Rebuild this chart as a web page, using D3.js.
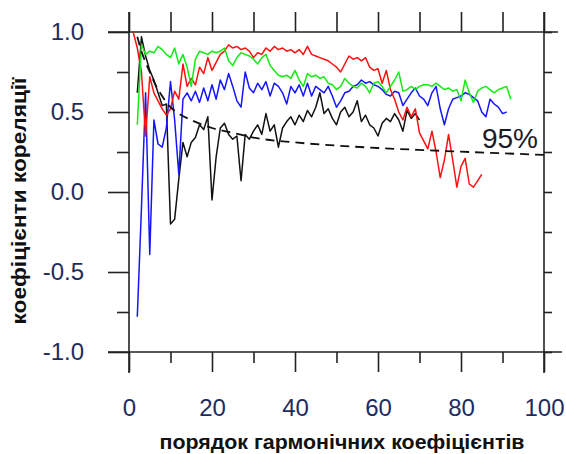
<!DOCTYPE html>
<html><head><meta charset="utf-8">
<script src="https://cdn.jsdelivr.net/npm/d3@7"></script>
<style>html,body{margin:0;padding:0;background:#fff;}svg{display:block;}</style>
</head><body>
<svg id="c" width="566" height="454"></svg>
<script>
// ---- data ----
const xTicks = [0, 20, 40, 60, 80, 100];
const xMinorTicks = [10, 30, 50, 70, 90];
const yTicks = [-1.0, -0.5, 0.0, 0.5, 1.0];
const yMinorTicks = [-0.75, -0.25, 0.25, 0.75];
const xTitle = "порядок гармонічних коефіцієнтів";
const yTitle = "коефіцієнти кореляції";
const sigLabel = "95%";

const redStart = 1;
const redValues = [1.00,0.90,0.75,0.35,0.72,0.62,0.57,0.52,0.48,0.52,
 0.63,0.58,0.80,0.66,0.71,0.67,0.78,0.74,0.84,0.76,
 0.81,0.86,0.88,0.92,0.90,0.91,0.89,0.90,0.88,0.84,
 0.87,0.86,0.90,0.88,0.91,0.89,0.90,0.88,0.89,0.87,
 0.89,0.86,0.91,0.86,0.85,0.84,0.83,0.82,0.80,0.78,
 0.75,0.80,0.85,0.83,0.84,0.82,0.84,0.78,0.76,0.77,
 0.68,0.76,0.64,0.58,0.50,0.45,0.53,0.47,0.52,0.37,
 0.32,0.27,0.38,0.25,0.09,0.20,0.36,0.20,0.03,0.16,
 0.21,0.05,0.03,0.07,0.11];

const greenStart = 2;
const greenValues = [0.42,0.92,0.86,0.88,0.87,0.91,0.89,0.86,0.84,
 0.90,0.80,0.86,0.78,0.66,0.83,0.88,0.87,0.86,0.88,
 0.87,0.88,0.90,0.82,0.79,0.84,0.87,0.86,0.85,0.83,
 0.80,0.84,0.86,0.79,0.76,0.73,0.72,0.73,0.71,0.76,
 0.70,0.66,0.74,0.72,0.73,0.71,0.72,0.68,0.67,0.64,
 0.66,0.71,0.68,0.66,0.65,0.68,0.66,0.62,0.68,0.69,
 0.66,0.62,0.66,0.70,0.75,0.63,0.64,0.66,0.64,0.66,
 0.67,0.67,0.66,0.68,0.66,0.64,0.65,0.63,0.64,0.57,
 0.70,0.62,0.56,0.63,0.65,0.66,0.64,0.62,0.64,0.65,
 0.66,0.58];

const blueStart = 2;
const blueValues = [-0.78,-0.10,0.62,-0.39,0.45,0.30,0.28,0.40,0.69,
 0.45,0.11,0.58,0.62,0.57,0.63,0.56,0.65,0.57,0.67,
 0.58,0.70,0.64,0.74,0.66,0.57,0.53,0.75,0.65,0.62,
 0.68,0.64,0.69,0.60,0.68,0.66,0.62,0.55,0.66,0.62,
 0.67,0.60,0.68,0.60,0.66,0.64,0.62,0.66,0.60,0.53,
 0.57,0.62,0.63,0.66,0.67,0.70,0.68,0.69,0.67,0.66,
 0.64,0.61,0.60,0.63,0.62,0.54,0.58,0.62,0.65,0.60,
 0.58,0.54,0.62,0.66,0.52,0.42,0.52,0.58,0.59,0.60,
 0.62,0.61,0.59,0.57,0.50,0.47,0.58,0.55,0.53,0.49,
 0.50];

const blackStart = 2;
const blackValues = [0.62,0.97,0.85,0.76,0.70,0.62,0.54,0.55,-0.20,
 -0.17,0.08,0.31,0.22,0.31,0.34,0.42,0.39,0.47,-0.05,
 0.22,0.40,0.43,0.36,0.33,0.35,0.07,0.36,0.33,0.38,
 0.42,0.36,0.49,0.38,0.42,0.28,0.40,0.44,0.47,0.42,
 0.48,0.44,0.51,0.47,0.53,0.62,0.49,0.52,0.46,0.42,
 0.50,0.53,0.47,0.50,0.57,0.44,0.48,0.42,0.40,0.35,
 0.43,0.46,0.44,0.49,0.45,0.38,0.51,0.46,0.49,0.45];

const sigX = [2,3,4,5,6,7,8,9,10,12,15,20,25,30,40,50,60,70,80,90,100];
const sigY = [0.97,0.88,0.81,0.75,0.69,0.64,0.60,0.56,0.53,0.49,0.45,0.40,0.37,0.34,0.31,0.29,0.275,0.263,0.252,0.242,0.232];

// ---- chart ----
const svg = d3.select("#c");
const x = d3.scaleLinear().domain([0, 100]).range([129, 544]);
const y = d3.scaleLinear().domain([-1, 1]).range([352, 32]);
const frameColor = "#222";
const labelColor = "#1d2b60";
const font = "Liberation Sans, Arial, sans-serif";

function styleAxis(g) {
  g.select(".domain").remove();
  g.selectAll("line").attr("stroke", frameColor).attr("stroke-width", 1.6);
  g.selectAll("text").attr("fill", labelColor).attr("font-family", font).attr("font-size", 24);
}

// left axis
svg.append("g").attr("transform", `translate(${x(0)},0)`)
  .call(d3.axisLeft(y).tickValues(yTicks).tickSize(21).tickPadding(24).tickFormat(d => d.toFixed(1)))
  .call(styleAxis);
svg.append("g").attr("transform", `translate(${x(0)},0)`)
  .call(d3.axisLeft(y).tickValues(yMinorTicks).tickSize(12).tickFormat(""))
  .call(styleAxis);
// bottom axis
svg.append("g").attr("transform", `translate(0,${y(-1)})`)
  .call(d3.axisBottom(x).tickValues(xTicks).tickSize(20).tickPadding(27).tickFormat(d => String(d)))
  .call(styleAxis);
svg.append("g").attr("transform", `translate(0,${y(-1)})`)
  .call(d3.axisBottom(x).tickValues(xMinorTicks).tickSize(11).tickFormat(""))
  .call(styleAxis);
// top axis
svg.append("g").attr("transform", `translate(0,${y(1)})`)
  .call(d3.axisTop(x).tickValues(d3.merge([xTicks, xMinorTicks])).tickSize(20).tickFormat(""))
  .call(styleAxis);
// right axis
svg.append("g").attr("transform", `translate(${x(100)},0)`)
  .call(d3.axisRight(y).tickValues(d3.merge([yTicks, yMinorTicks])).tickSize(8).tickFormat(""))
  .call(styleAxis);

// frame lines (extend past corners)
const frame = svg.append("g").attr("stroke", frameColor).attr("stroke-width", 1.6);
frame.append("line").attr("x1", x(0)).attr("x2", x(0)).attr("y1", y(1) - 20).attr("y2", y(-1) + 21);
frame.append("line").attr("x1", x(100)).attr("x2", x(100)).attr("y1", y(1) - 20).attr("y2", y(-1) + 21);
frame.append("line").attr("x1", x(0) - 21).attr("x2", x(100) + 18).attr("y1", y(-1)).attr("y2", y(-1));
frame.append("line").attr("x1", x(0) - 21).attr("x2", x(100) + 14).attr("y1", y(1)).attr("y2", y(1));

// series
function toPts(start, vals) { return vals.map((v, i) => [start + i, v]); }
const line = d3.line().x(d => x(d[0])).y(d => y(d[1]));
const series = [
  {pts: toPts(blackStart, blackValues), color: "#111"},
  {pts: toPts(blueStart, blueValues), color: "#1515ff"},
  {pts: toPts(redStart, redValues), color: "#ff1010"},
  {pts: toPts(greenStart, greenValues), color: "#14ea14"}
];
series.forEach(s => {
  svg.append("path").datum(s.pts).attr("d", line)
    .attr("fill", "none").attr("stroke", s.color).attr("stroke-width", 1.5)
    .attr("stroke-linejoin", "round");
});
// significance curve
svg.append("path").datum(sigX.map((v, i) => [v, sigY[i]]))
  .attr("d", d3.line().x(d => x(d[0])).y(d => y(d[1])).curve(d3.curveMonotoneX))
  .attr("fill", "none").attr("stroke", "#111").attr("stroke-width", 1.8)
  .attr("stroke-dasharray", "9,6");

svg.append("text").attr("x", 538).attr("y", 148).attr("text-anchor", "end")
  .attr("font-family", font).attr("font-size", 28).attr("fill", "#1a1a2a").text(sigLabel);

// titles
svg.append("text").attr("x", 342).attr("y", 449).attr("text-anchor", "middle")
  .attr("font-family", font).attr("font-weight", "bold").attr("font-size", 21)
  .attr("textLength", 365).attr("lengthAdjust", "spacingAndGlyphs")
  .attr("fill", "#111").text(xTitle);
svg.append("text").attr("transform", "translate(26,201) rotate(-90)").attr("text-anchor", "middle")
  .attr("font-family", font).attr("font-weight", "bold").attr("font-size", 21)
  .attr("textLength", 247).attr("lengthAdjust", "spacingAndGlyphs")
  .attr("fill", "#111").text(yTitle);
</script>
</body></html>
